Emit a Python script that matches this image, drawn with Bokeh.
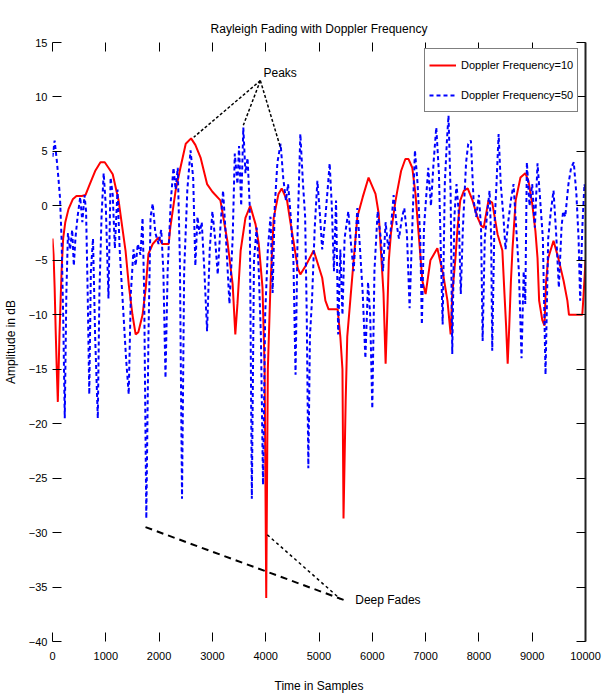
from bokeh.plotting import figure
from bokeh.models import (LinearAxis, Range1d, Legend, LegendItem, Label,
                          FixedTicker, CustomJSTickFormatter)
from bokeh.embed import file_html
from bokeh.resources import INLINE

# ---------------- data ----------------
red_x = [0, 20, 40, 60, 80, 100, 130, 170, 200, 240, 300, 380, 450, 550, 620, 700, 800, 900, 980,
         1050, 1130, 1240, 1310, 1370, 1430, 1500, 1560, 1610, 1690, 1750, 1800, 1880, 1990, 2060,
         2180, 2210, 2310, 2400, 2500, 2600, 2680, 2780, 2900, 3000, 3150, 3280, 3380, 3430, 3470,
         3530, 3620, 3710, 3810, 3870, 3940, 3980, 4010, 4040, 4090, 4150, 4240, 4300, 4400, 4460,
         4520, 4600, 4650, 4750, 4900, 5060, 5120, 5180, 5350, 5400, 5440, 5460, 5500, 5530, 5590,
         5650, 5720, 5820, 5930, 6060, 6120, 6150, 6210, 6250, 6280, 6310, 6350, 6430, 6470, 6540,
         6620, 6680, 6750, 6810, 6870, 6940, 7000, 7090, 7220, 7330, 7410, 7470, 7500, 7560, 7600,
         7650, 7720, 7790, 7880, 7970, 8040, 8090, 8180, 8250, 8350, 8440, 8480, 8510, 8540, 8570,
         8600, 8630, 8690, 8780, 8870, 8930, 9000, 9060, 9100, 9130, 9190, 9230, 9260, 9300, 9400,
         9490, 9590, 9660, 9690, 9940, 9960, 10000]
red_y = [-3.0, -4.5, -7.5, -11.5, -15.0, -18.0, -12.0, -6.0, -3.0, -1.5, -0.3, 0.6, 0.9, 0.9, 1.0,
         2.0, 3.2, 4.0, 4.0, 3.5, 2.9, 0.5, -2.0, -4.1, -7.2, -10.0, -11.8, -11.6, -10.0, -7.5, -4.4,
         -3.5, -2.9, -3.5, -3.5, -2.0, 1.4, 3.5, 5.7, 6.2, 5.6, 4.4, 2.0, 1.3, 0.5, -3.2, -7.2, -11.8,
         -9.0, -4.1, -1.1, 0.0, -1.7, -3.5, -7.5, -15.0, -36.0, -15.0, -7.2, -1.1, 1.1, 1.6, 0.5,
         -1.4, -3.2, -5.7, -6.3, -5.5, -4.1, -6.6, -8.7, -9.5, -9.5, -12.0, -15.0, -28.7, -18.0,
         -12.0, -8.5, -5.0, -1.0, 0.8, 2.6, 1.1, -0.7, -3.2, -8.0, -14.5, -10.0, -5.0, -2.5, 0.3,
         1.4, 3.2, 4.3, 4.3, 3.5, 1.1, -2.6, -6.9, -8.1, -5.0, -3.9, -6.3, -8.7, -11.8, -8.1, -4.8,
         -2.0, 0.5, 1.4, 1.6, 0.5, -1.0, -1.8, -2.0, 0.5, 0.3, -2.6, -4.1, -8.1, -11.0, -14.5,
         -11.0, -7.0, -4.0, 0.5, 2.6, 3.0, 2.3, 0.2, -2.3, -4.8, -8.7, -10.5, -11.0, -7.0, -4.8,
         -3.2, -4.8, -6.9, -8.7, -10.0, -10.0, -8.5, -5.0]

blue_x = [0, 40, 80, 110, 140, 170, 200, 230, 260, 290, 330, 370, 400, 430, 470, 520, 560, 600, 630,
          660, 690, 720, 760, 800, 850, 880, 920, 960, 1000, 1050, 1090, 1130, 1170, 1220, 1260,
          1320, 1380, 1430, 1470, 1520, 1560, 1600, 1650, 1690, 1720, 1760, 1800, 1840, 1880, 1930,
          1990, 2040, 2080, 2120, 2160, 2220, 2270, 2310, 2350, 2390, 2430, 2470, 2530, 2590, 2640,
          2680, 2720, 2760, 2800, 2850, 2900, 2950, 3000, 3050, 3100, 3150, 3200, 3250, 3320, 3380,
          3420, 3470, 3500, 3540, 3580, 3620, 3660, 3700, 3740, 3780, 3830, 3870, 3910, 3950, 3990,
          4040, 4090, 4130, 4170, 4220, 4280, 4330, 4380, 4420, 4470, 4520, 4560, 4600, 4650, 4700,
          4740, 4770, 4800, 4830, 4870, 4920, 4970, 5020, 5060, 5120, 5170, 5200, 5240, 5280, 5320,
          5360, 5400, 5440, 5480, 5550, 5600, 5650, 5720, 5770, 5820, 5870, 5920, 5960, 6000, 6040,
          6100, 6160, 6200, 6250, 6300, 6350, 6400, 6450, 6500, 6560, 6600, 6650, 6700, 6750, 6800,
          6850, 6900, 6930, 6970, 7050, 7100, 7150, 7200, 7250, 7280, 7320, 7360, 7400, 7430, 7470,
          7500, 7540, 7580, 7620, 7660, 7700, 7760, 7800, 7850, 7900, 7950, 8000, 8040, 8070, 8110,
          8160, 8200, 8230, 8250, 8290, 8330, 8370, 8410, 8460, 8500, 8550, 8600, 8650, 8700, 8750,
          8800, 8840, 8870, 8900, 8950, 9000, 9050, 9100, 9150, 9200, 9250, 9300, 9350, 9400, 9450,
          9500, 9550, 9580, 9620, 9680, 9730, 9780, 9830, 9870, 9900, 9940, 9980, 10000]
blue_y = [4.5, 6.0, 4.2, 2.6, 0.8, -3.0, -10.0, -19.5, -8.0, -2.5, -4.0, -2.2, -5.5, -3.0, -1.0,
          0.8, -1.5, 1.0, -0.5, -8.0, -17.3, -6.0, -3.0, -12.0, -19.5, -8.0, -1.0, 3.0, 0.0, -8.5,
          2.6, 1.0, -3.9, 1.5, -4.0, -9.0, -14.0, -17.3, -8.0, -4.0, -5.5, -3.5, -4.5, -1.1, -8.0,
          -28.7, -12.0, -1.0, 0.2, -2.5, -3.5, -2.2, -6.0, -15.8, -6.0, 0.5, 3.5, 1.5, 3.5, -5.0,
          -26.9, -6.0, 1.5, 5.1, 2.5, -5.5, -1.0, -2.6, -1.5, -6.0, -11.5, -4.0, -0.5, -3.0, -6.3,
          -2.0, 1.4, -2.6, -9.0, -3.0, 4.8, 2.0, 5.5, 0.0, 7.2, 3.0, 4.4, 0.0, -26.9, -5.0, -2.0,
          -6.0, -12.0, -25.6, -10.0, -4.0, -1.0, -8.0, 0.0, 4.0, 5.7, 2.5, 0.5, 2.0, -1.0, -5.0,
          -15.5, -2.0, 6.6, 2.0, -1.0, -10.0, -24.1, -12.0, -8.5, -2.0, 2.3, -1.0, -4.0, -1.0, 2.0,
          3.9, 0.0, -6.0, 0.5, -11.8, -4.0, -10.0, -3.0, -0.5, -3.5, -6.0, -0.2, -4.0, -8.0, -14.0,
          -7.0, -10.0, -18.6, -6.0, -0.5, -3.0, -6.0, -1.5, -4.0, -2.0, 1.0, -1.5, -3.0, -1.0, -0.2,
          -2.6, -9.4, -2.0, 5.1, 2.0, -3.0, -10.9, -2.0, 3.5, 0.0, 4.0, 7.2, 3.0, -3.0, -10.9, 2.0,
          6.0, 8.3, 1.0, -13.6, -1.0, 2.0, -0.5, -8.1, -2.0, 4.0, 5.7, 6.0, 0.5, -1.0, 1.0, -2.0,
          -12.4, -3.0, -0.5, 1.4, -3.0, -13.3, -2.0, 2.0, 6.6, 2.0, -1.0, -4.0, -1.5, 0.5, 2.0,
          -2.0, -6.0, -14.0, -6.0, -9.0, 4.0, 0.0, 2.0, -2.0, 3.9, 0.5, -3.0, -15.5, -3.0, -0.5,
          1.4, -2.6, -7.5, -2.0, -0.5, -1.0, 2.0, 3.5, 4.0, 1.0, -3.0, -8.7, -2.0, 2.0, 1.5]

series_names = ["Doppler Frequency=10", "Doppler Frequency=50"]
x_ticks = [0, 1000, 2000, 3000, 4000, 5000, 6000, 7000, 8000, 9000, 10000]
y_ticks = [-40, -35, -30, -25, -20, -15, -10, -5, 0, 5, 10, 15]
title_text = "Rayleigh Fading with Doppler Frequency"

# annotation pointers
peaks_text_xy = (3958, 12.2)
peaks_from = (3900, 11.5)
peaks_to_x = [2650, 3580, 4280]
peaks_to_y = [6.3, 7.4, 5.3]
fades_text_xy = (5680, -36.2)
fades_from_x = [1745, 4030]
fades_from_y = [-29.5, -30.2]
fades_to_x = [5530, 5400]
fades_to_y = [-36.3, -36.1]

FONT = "Liberation Sans"

p = figure(width=612, height=697, x_range=Range1d(0, 10000), y_range=Range1d(-40, 15),
           output_backend="svg", toolbar_location=None,
           min_border_left=52, min_border_right=27, min_border_top=42, min_border_bottom=56,
           title=title_text)
p.outline_line_color = None
p.grid.visible = False
p.title.align = "center"
p.title.vertical_align = "top"
p.title.text_font = FONT
p.title.text_font_size = "12px"
p.title.text_font_style = "normal"
p.title.text_color = "black"

xb = p.xaxis[0]
xb.ticker = FixedTicker(ticks=x_ticks)
yl = p.yaxis[0]
yl.ticker = FixedTicker(ticks=y_ticks)
for ax in (xb, yl):
    ax.major_tick_in = 9
    ax.major_tick_out = 0
    ax.minor_tick_in = 0
    ax.minor_tick_out = 0
    ax.major_tick_line_color = "black"
    ax.axis_line_color = None
    ax.major_label_text_font = FONT
    ax.major_label_text_font_size = "11px"
    ax.major_label_text_color = "black"
    ax.axis_label_text_font = FONT
    ax.axis_label_text_font_size = "12px"
    ax.axis_label_text_font_style = "normal"
    ax.axis_label_text_color = "black"
xb.axis_label = "Time in Samples"
xb.major_label_standoff = 10
xb.axis_label_standoff = 16
yl.axis_label = "Amplitude in dB"
yl.major_label_standoff = 5
yl.axis_label_standoff = 8

blank = CustomJSTickFormatter(code="return ''")
top = LinearAxis(ticker=FixedTicker(ticks=x_ticks), formatter=blank,
                 major_tick_in=9, major_tick_out=0, minor_tick_in=0, minor_tick_out=0,
                 axis_line_color=None, major_label_standoff=0, major_tick_line_color="black")
right = LinearAxis(ticker=FixedTicker(ticks=y_ticks), formatter=blank,
                   major_tick_in=9, major_tick_out=0, minor_tick_in=0, minor_tick_out=0,
                   axis_line_color="#222222", axis_line_width=2, major_label_standoff=0,
                   major_tick_line_color="black")
p.add_layout(top, "above")
p.add_layout(right, "right")

r1 = p.line(red_x, red_y, line_color="#ff0000", line_width=2)
r2 = p.line(blue_x, blue_y, line_color="#0000ff", line_width=2, line_dash="4 3")

# annotations
for tx, ty in zip(peaks_to_x, peaks_to_y):
    p.line([peaks_from[0], tx], [peaks_from[1], ty], line_color="black", line_width=1.5,
           line_dash="3 2")
p.add_layout(Label(x=peaks_text_xy[0], y=peaks_text_xy[1], text="Peaks", text_font=FONT,
                   text_font_size="12px", text_baseline="middle", text_color="black"))
p.line([fades_from_x[0], fades_to_x[0]], [fades_from_y[0], fades_to_y[0]], line_color="black",
       line_width=2, line_dash="7 5")
p.line([fades_from_x[1], fades_to_x[1]], [fades_from_y[1], fades_to_y[1]], line_color="black",
       line_width=1.5, line_dash="3 3")
p.add_layout(Label(x=fades_text_xy[0], y=fades_text_xy[1], text="Deep Fades", text_font=FONT,
                   text_font_size="12px", text_baseline="middle", text_color="black"))

legend = Legend(items=[LegendItem(label=series_names[0], renderers=[r1]),
                       LegendItem(label=series_names[1], renderers=[r2])],
                location=(372, 529), margin=0, padding=4, spacing=6,
                glyph_width=27, glyph_height=24, label_height=24, label_standoff=5,
                label_text_font=FONT, label_text_font_size="11px", label_text_color="black",
                border_line_color="black", border_line_width=1.5,
                background_fill_color="white", background_fill_alpha=1.0)
p.add_layout(legend)

open("out.html", "w").write(file_html(p, INLINE))
